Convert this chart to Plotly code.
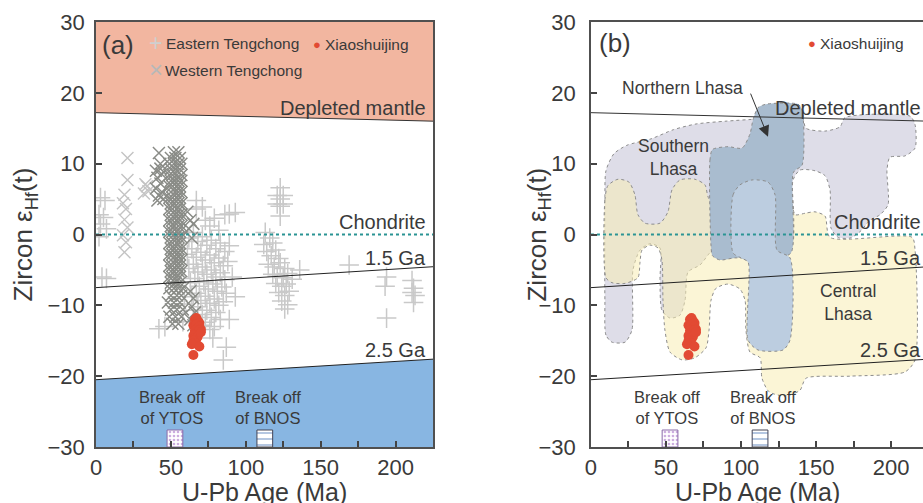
import plotly.graph_objects as go

# ---------------- data ----------------
age_ends = [0, 225]
dm_eps = [17.2, 16.0]          # depleted mantle
ga15_eps = [-7.5, -4.55]       # 1.5 Ga crust evolution
ga25_eps = [-20.5, -17.6]      # 2.5 Ga crust evolution
chur_eps = [0, 0]              # chondrite

xiao = [(66, -12.0), (67, -11.8), (68, -12.2), (69, -12.5), (65, -12.8), (66, -13.0), (67, -12.7),
        (68, -13.2), (69, -13.0), (70, -13.4), (66, -13.6), (67, -13.9), (68, -14.1), (69, -13.5),
        (65, -14.3), (66, -14.6), (67, -14.8), (68, -14.4), (70, -13.8), (65, -15.0), (66, -15.3),
        (64, -15.5), (69, -15.8), (65, -17.0)]

east = [(3, 5.2), (6, 4.8), (2, 2.8), (5, 2.4), (3, 1.5), (7, 0.8), (2, -0.3), (4, -6.0), (7, -6.2),
        (67, 4.8), (67, 3.6), (71, 3.9), (73, 2.0), (76, 1.2), (79, 2.3), (82, 0.6), (86, 2.8), (89, 2.9), (93, 3.1),
        (62, -0.5), (65, 0.3), (68, -1.0), (71, -0.3), (74, -1.5), (77, -0.8), (80, -2.0), (83, -1.2), (86, -2.4), (89, -1.6),
        (61, -2.8), (64, -2.0), (67, -3.2), (70, -2.5), (73, -3.6), (76, -2.9), (79, -4.0), (82, -3.3), (85, -4.4), (88, -3.8),
        (62, -4.8), (65, -4.2), (68, -5.3), (71, -4.6), (74, -5.6), (77, -5.0), (80, -6.0), (83, -5.4), (86, -6.4), (91, -6.0),
        (63, -6.8), (66, -6.2), (69, -7.3), (72, -6.7), (75, -7.7), (78, -7.0), (81, -8.0), (84, -7.4), (87, -8.3), (93, -8.8),
        (64, -8.8), (67, -8.3), (70, -9.3), (73, -8.7), (76, -9.7), (79, -9.1), (82, -10.0), (85, -9.5),
        (65, -10.7), (68, -10.2), (71, -11.3), (74, -10.7), (77, -11.7), (80, -11.0), (83, -12.0), (89, -12.0),
        (70, -12.8), (73, -12.4), (76, -13.4), (79, -13.0), (78, -14.6), (87, -15.9), (85, -17.7),
        (42, -13.3), (46, -13.0), (58, -12.3), (59, -9.8),
        (113, 0.3), (116, -0.5), (112, -1.4), (118, -1.2), (114, -2.4), (117, -3.0), (120, -2.2), (122, -3.4),
        (115, -4.2), (119, -4.6), (123, -4.0), (126, -4.8), (118, -5.6), (121, -5.9), (125, -6.1), (128, -5.5),
        (120, -6.9), (124, -7.3), (127, -7.0), (122, -8.2), (126, -8.6), (129, -8.0), (124, -9.4), (128, -9.9),
        (126, -10.5), (131, -6.3),
        (121, 5.5), (123, 5.0), (125, 5.5), (121, 4.3), (123, 4.0), (125, 4.3), (123, 6.6), (123, 2.6),
        (136, -5.0), (169, -4.3), (194, -6.0), (193, -7.3), (194, -11.8),
        (211, -6.5), (212, -7.6), (211, -8.2), (213, -8.6), (212, -9.6)]

west_light = [(21, 10.8), (21, 7.7), (19, 5.6), (18, 4.4), (20, 3.6), (19, 2.1), (21, 1.0), (18, -0.1),
              (20, -1.1), (19, -2.5), (33, 7.1), (35, 6.1), (34, 6.8), (32, 5.8)]

west_dark = [(42, 11.5), (43, 10.0), (40, 9.0), (44, 8.5), (41, 8.0), (43, 7.2), (40, 6.5), (44, 6.0),
             (42, 5.5), (41, 4.8), (45, 5.0), (43, 9.3),
             (52, 11.6), (55, 11.6),
             (50, 10.8), (53, 10.8), (56, 10.8),
             (49, 10.0), (52, 10.0), (55, 10.0), (57, 10.0),
             (50, 9.2), (53, 9.2), (56, 9.2),
             (49, 8.4), (51, 8.4), (54, 8.4), (57, 8.4),
             (50, 7.6), (52, 7.6), (55, 7.6), (57, 7.6),
             (49, 6.8), (51, 6.8), (54, 6.8), (56, 6.8),
             (50, 6.0), (53, 6.0), (55, 6.0), (57, 6.0),
             (49, 5.2), (51, 5.2), (54, 5.2), (56, 5.2),
             (50, 4.4), (52, 4.4), (55, 4.4), (57, 4.4),
             (49, 3.6), (51, 3.6), (54, 3.6), (56, 3.6),
             (50, 2.8), (53, 2.8), (55, 2.8), (57, 2.8),
             (49, 2.0), (51, 2.0), (54, 2.0), (56, 2.0),
             (50, 1.2), (52, 1.2), (55, 1.2), (57, 1.2),
             (49, 0.4), (51, 0.4), (54, 0.4), (56, 0.4),
             (50, -0.4), (53, -0.4), (55, -0.4), (57, -0.4),
             (49, -1.2), (51, -1.2), (54, -1.2), (56, -1.2),
             (50, -2.0), (52, -2.0), (55, -2.0), (57, -2.0),
             (49, -2.8), (51, -2.8), (54, -2.8), (56, -2.8),
             (50, -3.6), (53, -3.6), (55, -3.6), (57, -3.6),
             (49, -4.4), (51, -4.4), (54, -4.4), (56, -4.4),
             (50, -5.2), (52, -5.2), (55, -5.2), (57, -5.2),
             (49, -6.0), (51, -6.0), (54, -6.0), (56, -6.0),
             (50, -6.8), (53, -6.8), (56, -6.8),
             (49, -7.6), (52, -7.6), (55, -7.6), (58, -7.6),
             (50, -8.6), (54, -8.6), (57, -8.6),
             (48, -9.6), (52, -9.6), (56, -9.6),
             (50, -10.6), (54, -10.6), (58, -10.6),
             (49, -11.6), (53, -11.6), (57, -11.6),
             (51, -12.6), (55, -12.6),
             (61, 3.2), (63, 2.0), (62, 0.8), (65, 1.5), (64, -0.5),
             (63, -8.0), (65, -9.0), (64, -10.2), (66, -11.0), (63, -12.0), (65, -12.8)]

ytos_age, bnos_age = 52.7, 112.7
box_width, box_height = 10.5, 2.4

south_lhasa = [(14, -15.2), (10, -14.2), (9.3, -9.3), (9.3, 4.9), (10, 9.0), (15.3, 11.4), (24, 12.6),
               (40, 13.5), (55, 14.8), (70, 15.6), (90, 16.0), (112, 16.3), (140.7, 16.5), (143.3, 15.0),
               (156, 14.6), (166, 15.2), (169.3, 16.5), (212.7, 16.7), (216, 15.5), (216, 12.2), (209.3, 11.1),
               (199.3, 10.9), (197.3, 9.1), (198, 4.2), (192.7, 2.8), (186, 2.0), (179.3, 0.4), (172.7, -0.5),
               (164.7, -0.4), (160, 0.9), (159.3, 6.3), (156, 8.3), (149.3, 9.0), (139.3, 9.1), (134.7, 7.7),
               (132.7, -2.2), (79.3, -2.6), (78, -2.9), (72.7, -4.3), (64.7, -5.3), (62.7, -9.3), (59.3, -11.4),
               (52.7, -11.8), (47.3, -10.7), (46, -6.4), (46, -1.9), (39.3, -1.3), (32.7, -2.2), (28, -5.0),
               (27.3, -13.5), (22.7, -15.2), (14, -15.2)]

central_lhasa = [(10, -6.1), (9.3, 4.9), (11.3, 6.9), (18, 7.8), (25.3, 7.4), (29.3, 5.6), (31.3, 2.8),
                 (36, 1.6), (46, 1.6), (51.3, 3.2), (54, 6.3), (59.3, 7.7), (69.3, 7.8), (76, 7.0),
                 (79.3, 4.9), (132.7, 4.9), (136, 2.8), (142.7, 3.0), (149.3, 3.2), (156, 2.6), (159.3, -0.4),
                 (214, -0.4), (216, -2.2), (216, -17.7), (209.3, -19.4), (172.7, -20.0), (143.3, -20.3),
                 (139.3, -22.0), (129.3, -22.8), (118.7, -22.2), (114, -20.3), (112.7, -17.4), (106, -16.6),
                 (103.3, -13.5), (102.7, -9.3), (99.3, -7.7), (91.3, -7.0), (83.3, -7.6), (80, -9.3),
                 (78.7, -13.5), (76.7, -16.0), (69.3, -17.4), (60.7, -17.7), (52.7, -16.6), (49.3, -13.5),
                 (48, -9.3), (47.3, -3.6), (44.7, -1.9), (39.3, -1.5), (34, -2.2), (32.7, -3.9), (31.3, -6.1),
                 (22.7, -6.9), (14, -6.8), (10, -6.1)]

north_lhasa_outer = [(80, -1.5), (79.3, 10.5), (81, 12.0), (91.3, 12.4), (100.7, 12.2), (106, 14.2),
                     (108, 16.2), (111.3, 17.9), (116.7, 18.4), (138, 18.4), (140.7, 17.6), (140.7, 9.8),
                     (135, 8.8), (133.3, -2.6), (120, -3.5), (96, -3.3), (86, -3.6), (81, -3.0), (80, -1.5)]

north_lhasa_inner = [(94.7, -2.6), (94.7, 5.6), (99.3, 7.0), (107.3, 7.7), (118, 7.4), (122.7, 5.6),
                     (124, -2.2), (132.7, -3.3), (132.7, -14.9), (128, -16.3), (111.3, -16.3), (104.7, -14.9),
                     (104.7, -3.9), (100, -3.3), (94.7, -2.6)]

# ---------------- style ----------------
FONT = "Liberation Sans, Arial, sans-serif"
TXT = "#3a3a3a"
RED = "#e24a33"
SALMON = "#f2b6a0"
BLUE_BG = "#88b6e2"


def xs(pts):
    return [p[0] for p in pts]


def ys(pts):
    return [p[1] for p in pts]


fig = go.Figure()

panels = [("x", "y"), ("x2", "y2")]

# Panel (a) background fields, as shapes below all traces
dm_path = "M {0},30 L {1},30 L {1},{3} L {0},{2} Z".format(age_ends[0], age_ends[1], dm_eps[0], dm_eps[1])
blue_path = "M {0},-30 L {1},-30 L {1},{3} L {0},{2} Z".format(age_ends[0], age_ends[1], ga25_eps[0], ga25_eps[1])
shapes = [
    dict(type="path", path=dm_path, xref="x", yref="y", fillcolor=SALMON, line=dict(width=0), layer="below"),
    dict(type="path", path=blue_path, xref="x", yref="y", fillcolor=BLUE_BG, line=dict(width=0), layer="below"),
]

# Panel (b) Lhasa fields
region_line = dict(color="#8c8c8c", width=1, dash="dot", shape="spline", smoothing=0.7)
fig.add_trace(go.Scatter(x=xs(south_lhasa), y=ys(south_lhasa), fill="toself", mode="lines",
                         fillcolor="#dedde8", line=region_line, xaxis="x2", yaxis="y2"))
fig.add_trace(go.Scatter(x=xs(central_lhasa), y=ys(central_lhasa), fill="toself", mode="lines",
                         fillcolor="rgba(247,237,181,0.55)", line=region_line, xaxis="x2", yaxis="y2"))
fig.add_trace(go.Scatter(x=xs(north_lhasa_outer), y=ys(north_lhasa_outer), fill="toself", mode="lines",
                         fillcolor="#a9bccf", line=region_line, xaxis="x2", yaxis="y2"))
fig.add_trace(go.Scatter(x=xs(north_lhasa_inner), y=ys(north_lhasa_inner), fill="toself", mode="lines",
                         fillcolor="#bccde0", line=region_line, xaxis="x2", yaxis="y2"))

# Data points (panel a)
fig.add_trace(go.Scatter(x=xs(east), y=ys(east), mode="markers", xaxis="x", yaxis="y",
                         marker=dict(symbol="cross-thin", size=14, line=dict(width=1.5, color="#c9c9c9"))))
fig.add_trace(go.Scatter(x=xs(west_light), y=ys(west_light), mode="markers", xaxis="x", yaxis="y",
                         marker=dict(symbol="x-thin", size=12, line=dict(width=1.4, color="#c4c4c4"))))
fig.add_trace(go.Scatter(x=xs(west_dark), y=ys(west_dark), mode="markers", xaxis="x", yaxis="y",
                         marker=dict(symbol="x-thin", size=12, line=dict(width=1.5, color="#8a8c87"))))

for xa, ya in panels:
    # reference lines
    fig.add_trace(go.Scatter(x=age_ends, y=dm_eps, mode="lines", line=dict(color="#333", width=1),
                             xaxis=xa, yaxis=ya))
    fig.add_trace(go.Scatter(x=age_ends, y=ga15_eps, mode="lines", line=dict(color="#222", width=1),
                             xaxis=xa, yaxis=ya))
    fig.add_trace(go.Scatter(x=age_ends, y=ga25_eps, mode="lines", line=dict(color="#222", width=1),
                             xaxis=xa, yaxis=ya))
    fig.add_trace(go.Scatter(x=age_ends, y=chur_eps, mode="lines",
                             line=dict(color="#2a9494", width=2.2, dash="dot"), xaxis=xa, yaxis=ya))
    # break-off boxes
    fig.add_trace(go.Bar(x=[ytos_age], y=[box_height], base=-30, width=box_width, xaxis=xa, yaxis=ya,
                         marker=dict(color="white", line=dict(color="#8a6aa8", width=1),
                                     pattern=dict(shape=".", fgcolor="#9a5cc0", size=4, solidity=0.35))))
    fig.add_trace(go.Bar(x=[bnos_age], y=[box_height], base=-30, width=box_width, xaxis=xa, yaxis=ya,
                         marker=dict(color="white", line=dict(color="#445", width=1),
                                     pattern=dict(shape="-", fgcolor="#3a6ab0", size=6, solidity=0.25))))
    # Xiaoshuijing
    fig.add_trace(go.Scatter(x=xs(xiao), y=ys(xiao), mode="markers", xaxis=xa, yaxis=ya,
                             marker=dict(symbol="circle", size=10, color=RED)))

axis_common = dict(showline=True, linecolor="#505050", linewidth=1.6, ticks="inside", ticklen=6,
                   tickwidth=1.5, tickcolor="#444", showgrid=False, zeroline=False,
                   tickfont=dict(family=FONT, size=22, color=TXT))

xtickvals = [0, 25, 50, 75, 100, 125, 150, 175, 200, 225]
xticktext = ["0", "", "50", "", "100", "", "150", "", "200", ""]
ytickvals = [-30, -20, -10, 0, 10, 20, 30]

fig.update_layout(
    width=923, height=503,
    margin=dict(l=96, r=0, t=22, b=56),
    paper_bgcolor="white", plot_bgcolor="white",
    showlegend=False, barmode="overlay", shapes=shapes,
    font=dict(family=FONT, color=TXT),
    xaxis=dict(domain=[0, 0.4075], range=[0, 225], tickvals=xtickvals, ticktext=xticktext,
               mirror=True, anchor="y", ticklabelstandoff=0, **axis_common),
    yaxis=dict(domain=[0, 1], range=[-30, 30], tickvals=ytickvals, mirror=True, anchor="x",
               ticklabelstandoff=5, **axis_common),
    xaxis2=dict(domain=[0.5985, 1], range=[0, 221.3], tickvals=xtickvals, ticktext=xticktext,
                mirror=True, anchor="y2", ticklabelstandoff=0, **axis_common),
    yaxis2=dict(domain=[0, 1], range=[-30, 30], tickvals=ytickvals, mirror=False, anchor="x2",
                ticklabelstandoff=9, **axis_common),
)

ann = []


def t(text, x, y, xref, yref, size, xanchor="center", color=TXT, yanchor="middle"):
    ann.append(dict(text=text, x=x, y=y, xref=xref, yref=yref, showarrow=False, xanchor=xanchor,
                    yanchor=yanchor, font=dict(family=FONT, size=size, color=color)))


# panel (a) texts
t("(a)", 2.5, 26.8, "x", "y", 26, "left")
t("+", 40, 27.0, "x", "y", 23, "center", "#cfcfcf")
t("Eastern Tengchong", 45.3, 26.9, "x", "y", 15.5, "left")
t("●", 147.3, 26.8, "x", "y", 13, "center", RED)
t("Xiaoshuijing", 151.3, 26.8, "x", "y", 15.5, "left")
t("×", 40, 23.3, "x", "y", 24, "center", "#b8b8b8")
t("Western Tengchong", 44.7, 23.2, "x", "y", 15.5, "left")

for xa, ya, xr in [("x", "y", 221.5), ("x2", "y2", 221.0)]:
    t("Depleted mantle", xr, 17.9, xa, ya, 20, "right")
    t("Chondrite", xr, 1.7, xa, ya, 20, "right")
    t("1.5 Ga", xr, -3.3, xa, ya, 20, "right")
    t("2.5 Ga", xr, -16.3, xa, ya, 20, "right")
    t("Break off<br>of YTOS", 50.7, -24.4, xa, ya, 16.5)
    t("Break off<br>of BNOS", 114.5, -24.4, xa, ya, 16.5)

# panel (b) texts
t("(b)", 4.0, 27.0, "x2", "y2", 26, "left")
t("●", 147.3, 26.9, "x2", "y2", 13, "center", RED)
t("Xiaoshuijing", 151.3, 26.9, "x2", "y2", 15.5, "left")
t("Northern Lhasa", 61, 20.7, "x2", "y2", 17.5)
t("Southern<br>Lhasa", 54.7, 10.9, "x2", "y2", 17.5)
t("Central<br>Lhasa", 171.3, -9.6, "x2", "y2", 17.5)
ann.append(dict(x=118, y=13.8, ax=106, ay=20.1, xref="x2", yref="y2", axref="x2", ayref="y2",
                text="", showarrow=True, arrowhead=2, arrowsize=2.2, arrowwidth=1, arrowcolor="#333"))

# axis titles
ytitle = "Zircon ε<sub>Hf</sub>(t)"
t(ytitle, -0.086, 0.5, "paper", "paper", 26)
ann[-1]["textangle"] = -90
t(ytitle, 0.5345, 0.5, "paper", "paper", 26)
ann[-1]["textangle"] = -90
t("U-Pb Age (Ma)", 0.2037, -0.106, "paper", "paper", 25)
t("U-Pb Age (Ma)", 0.7993, -0.106, "paper", "paper", 25)

fig.update_layout(annotations=ann)

fig.write_html("out.html", config={"displayModeBar": False},
               post_script="document.body.style.margin='0';document.body.style.overflow='hidden';")
